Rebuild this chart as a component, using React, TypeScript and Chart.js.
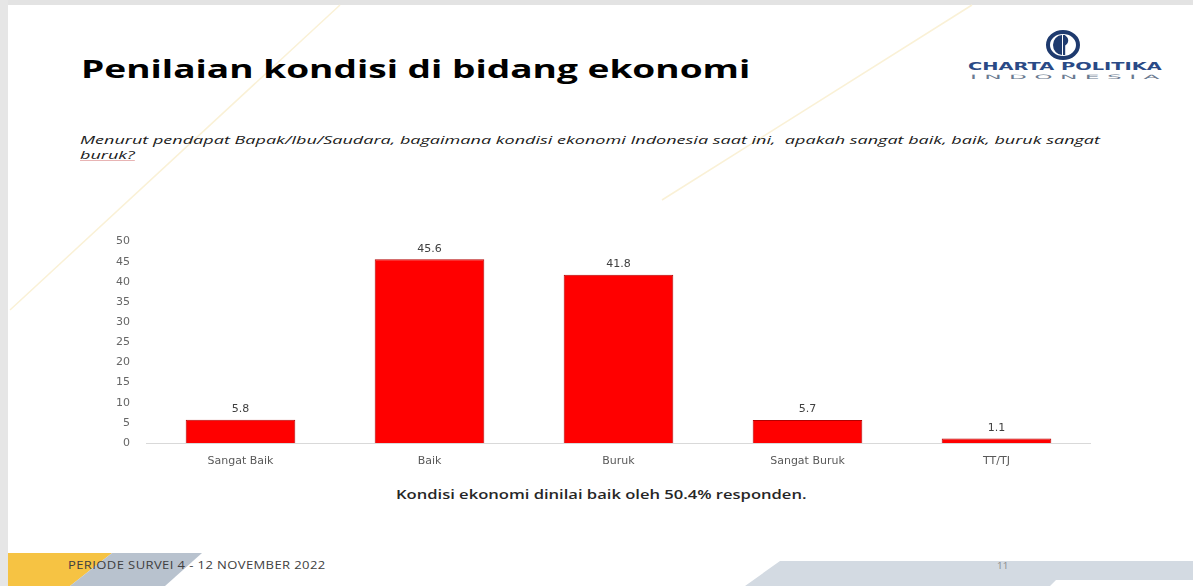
import React, { useEffect, useLayoutEffect, useRef, useState } from "react";
import { Chart, registerables } from "chart.js";

Chart.register(...registerables);

const categories = ["Sangat Baik", "Baik", "Buruk", "Sangat Buruk", "TT/TJ"];
const values = [5.8, 45.6, 41.8, 5.7, 1.1];
const valueLabels = ["5.8", "45.6", "41.8", "5.7", "1.1"];
const yTicks = [0, 5, 10, 15, 20, 25, 30, 35, 40, 45, 50];

const TITLE = "Penilaian kondisi di bidang ekonomi";
const QUESTION_1 =
  "Menurut pendapat Bapak/Ibu/Saudara, bagaimana kondisi ekonomi Indonesia saat ini,  apakah sangat baik, baik, buruk sangat";
const QUESTION_2 = "buruk?";
const CAPTION = "Kondisi ekonomi dinilai baik oleh 50.4% responden.";
const FOOTER = "PERIODE SURVEI 4 - 12 NOVEMBER 2022";
const PAGE = "11";

function FitText(props: {
  text: string;
  left: number;
  top: number;
  width: number;
  style: React.CSSProperties;
  extraLine?: string;
}) {
  const ref = useRef<HTMLSpanElement>(null);
  const [scale, setScale] = useState(1);
  useLayoutEffect(() => {
    if (ref.current) {
      const w = ref.current.offsetWidth;
      if (w > 0) setScale(props.width / w);
    }
  }, [props.text, props.width]);
  return (
    <div
      style={{
        position: "absolute",
        left: props.left,
        top: props.top,
        transform: `scaleX(${scale})`,
        transformOrigin: "left top",
        ...props.style,
      }}
    >
      <span ref={ref} style={{ whiteSpace: "pre", display: "inline-block" }}>
        {props.text}
      </span>
      {props.extraLine ? (
        <div style={{ whiteSpace: "pre" }}>
          <span>{props.extraLine}</span>
        </div>
      ) : null}
    </div>
  );
}

const valueLabelPlugin = {
  id: "valueLabels",
  afterDatasetsDraw(chart: any) {
    const ctx = chart.ctx;
    const meta = chart.getDatasetMeta(0);
    ctx.save();
    ctx.font = "11px 'DejaVu Sans'";
    ctx.fillStyle = "#404040";
    ctx.textAlign = "center";
    ctx.textBaseline = "bottom";
    meta.data.forEach((bar: any, i: number) => {
      ctx.fillText(valueLabels[i], bar.x, bar.y - 5);
    });
    ctx.restore();
  },
};

function BarChart() {
  const canvasRef = useRef<HTMLCanvasElement>(null);
  useEffect(() => {
    if (!canvasRef.current) return;
    const chart = new Chart(canvasRef.current, {
      type: "bar",
      data: {
        labels: categories,
        datasets: [
          {
            data: values,
            backgroundColor: "#FF0000",
            borderColor: "#B40000",
            borderWidth: 1,
            barPercentage: 0.58,
            categoryPercentage: 1,
          },
        ],
      },
      options: {
        animation: false,
        responsive: false,
        maintainAspectRatio: false,
        layout: { padding: { top: 9, right: 0, left: 0, bottom: 0 } },
        plugins: {
          legend: { display: false },
          tooltip: { enabled: false },
        },
        scales: {
          x: {
            grid: { display: false, drawTicks: false },
            border: { display: true, color: "#D9D9D9", width: 1 },
            ticks: {
              color: "#595959",
              font: { family: "'DejaVu Sans'", size: 11 },
              padding: 12,
            },
            afterFit(scale: any) {
              scale.height = 30;
            },
          },
          y: {
            min: 0,
            max: 50,
            afterBuildTicks(scale: any) {
              scale.ticks = yTicks.map((v) => ({ value: v }));
            },
            grid: { display: false, drawTicks: false },
            border: { display: false },
            ticks: {
              color: "#666666",
              font: { family: "'DejaVu Sans'", size: 11 },
              padding: 16,
            },
            afterFit(scale: any) {
              scale.width = 51;
            },
          },
        },
      },
      plugins: [valueLabelPlugin],
    });
    return () => chart.destroy();
  }, []);
  return (
    <canvas
      ref={canvasRef}
      width={996}
      height={254}
      style={{ position: "absolute", left: 95, top: 219, width: 996, height: 254 }}
    />
  );
}

export default function App() {
  useEffect(() => {
    document.body.style.margin = "0";
  }, []);
  const qStyle: React.CSSProperties = {
    fontStyle: "italic",
    fontSize: 11.5,
    lineHeight: "15px",
    color: "#1A1A1A",
    textDecoration: "underline",
    textDecorationColor: "#E8B4B4",
  };
  return (
    <div
      style={{
        position: "relative",
        width: 1193,
        height: 586,
        overflow: "hidden",
        background: "#FFFFFF",
        fontFamily: "'Open Sans', sans-serif",
      }}
    >
      {/* borders */}
      <div style={{ position: "absolute", left: 0, top: 0, width: 1193, height: 5, background: "#E3E3E3" }} />
      <div style={{ position: "absolute", left: 0, top: 0, width: 8, height: 586, background: "#E6E6E6" }} />

      {/* faint decorations */}
      <svg width={1193} height={586} style={{ position: "absolute", left: 0, top: 0 }}>
        <line x1={10} y1={310} x2={340} y2={5} stroke="#FAF1D6" strokeWidth={1.5} />
        <line x1={662} y1={200} x2={972} y2={5} stroke="#FAF1D6" strokeWidth={1.5} />
        {/* footer shapes */}
        <polygon points="8,553 112,553 70,586 8,586" fill="#F6C343" />
        <polygon points="112,553 202,553 165,586 70,586" fill="#B8C2CE" />
        <polygon points="780,561 1193,561 1193,580 1056,580 1050,586 745,586" fill="#D3DAE2" />
      </svg>

      {/* logo */}
      <svg width={40} height={34} style={{ position: "absolute", left: 1043, top: 29 }}>
        <ellipse cx={20} cy={16} rx={15} ry={13} fill="none" stroke="#1E3A6E" strokeWidth={4} />
        <path d="M19 6 A 9 10 0 0 0 19 26 Z" fill="#1E3A6E" />
        <path d="M21 6 A 7 6 0 0 1 21 17 Z" fill="#1E3A6E" />
        <rect x={20} y={6} width={2.2} height={20} fill="#1E3A6E" />
      </svg>
      <FitText
        text="CHARTA POLITIKA"
        left={968}
        top={61}
        width={194}
        style={{ fontFamily: "'DejaVu Sans'", fontWeight: 700, fontSize: 11, lineHeight: "12px", color: "#2A4A86" }}
      />
      <FitText
        text="I N D O N E S I A"
        left={970}
        top={73}
        width={190}
        style={{ fontFamily: "'DejaVu Sans'", fontSize: 6, lineHeight: "7px", color: "#6A7A90" }}
      />

      {/* title */}
      <FitText
        text={TITLE}
        left={81}
        top={51}
        width={670}
        style={{ fontWeight: 700, fontSize: 25, lineHeight: "34px", color: "#000000" }}
      />
      <FitText
        text={QUESTION_1}
        extraLine={QUESTION_2}
        left={80}
        top={132}
        width={1020}
        style={qStyle}
      />

      <BarChart />

      <FitText
        text={CAPTION}
        left={396}
        top={487}
        width={410}
        style={{ fontWeight: 600, fontSize: 12, lineHeight: "16px", color: "#262626" }}
      />

      <FitText
        text={FOOTER}
        left={68}
        top={559}
        width={258}
        style={{ fontSize: 10, lineHeight: "13px", color: "#404040", letterSpacing: "0.3px" }}
      />
      <FitText
        text={PAGE}
        left={997}
        top={560}
        width={11}
        style={{ fontSize: 9, lineHeight: "11px", color: "#8A8A8A" }}
      />
    </div>
  );
}
